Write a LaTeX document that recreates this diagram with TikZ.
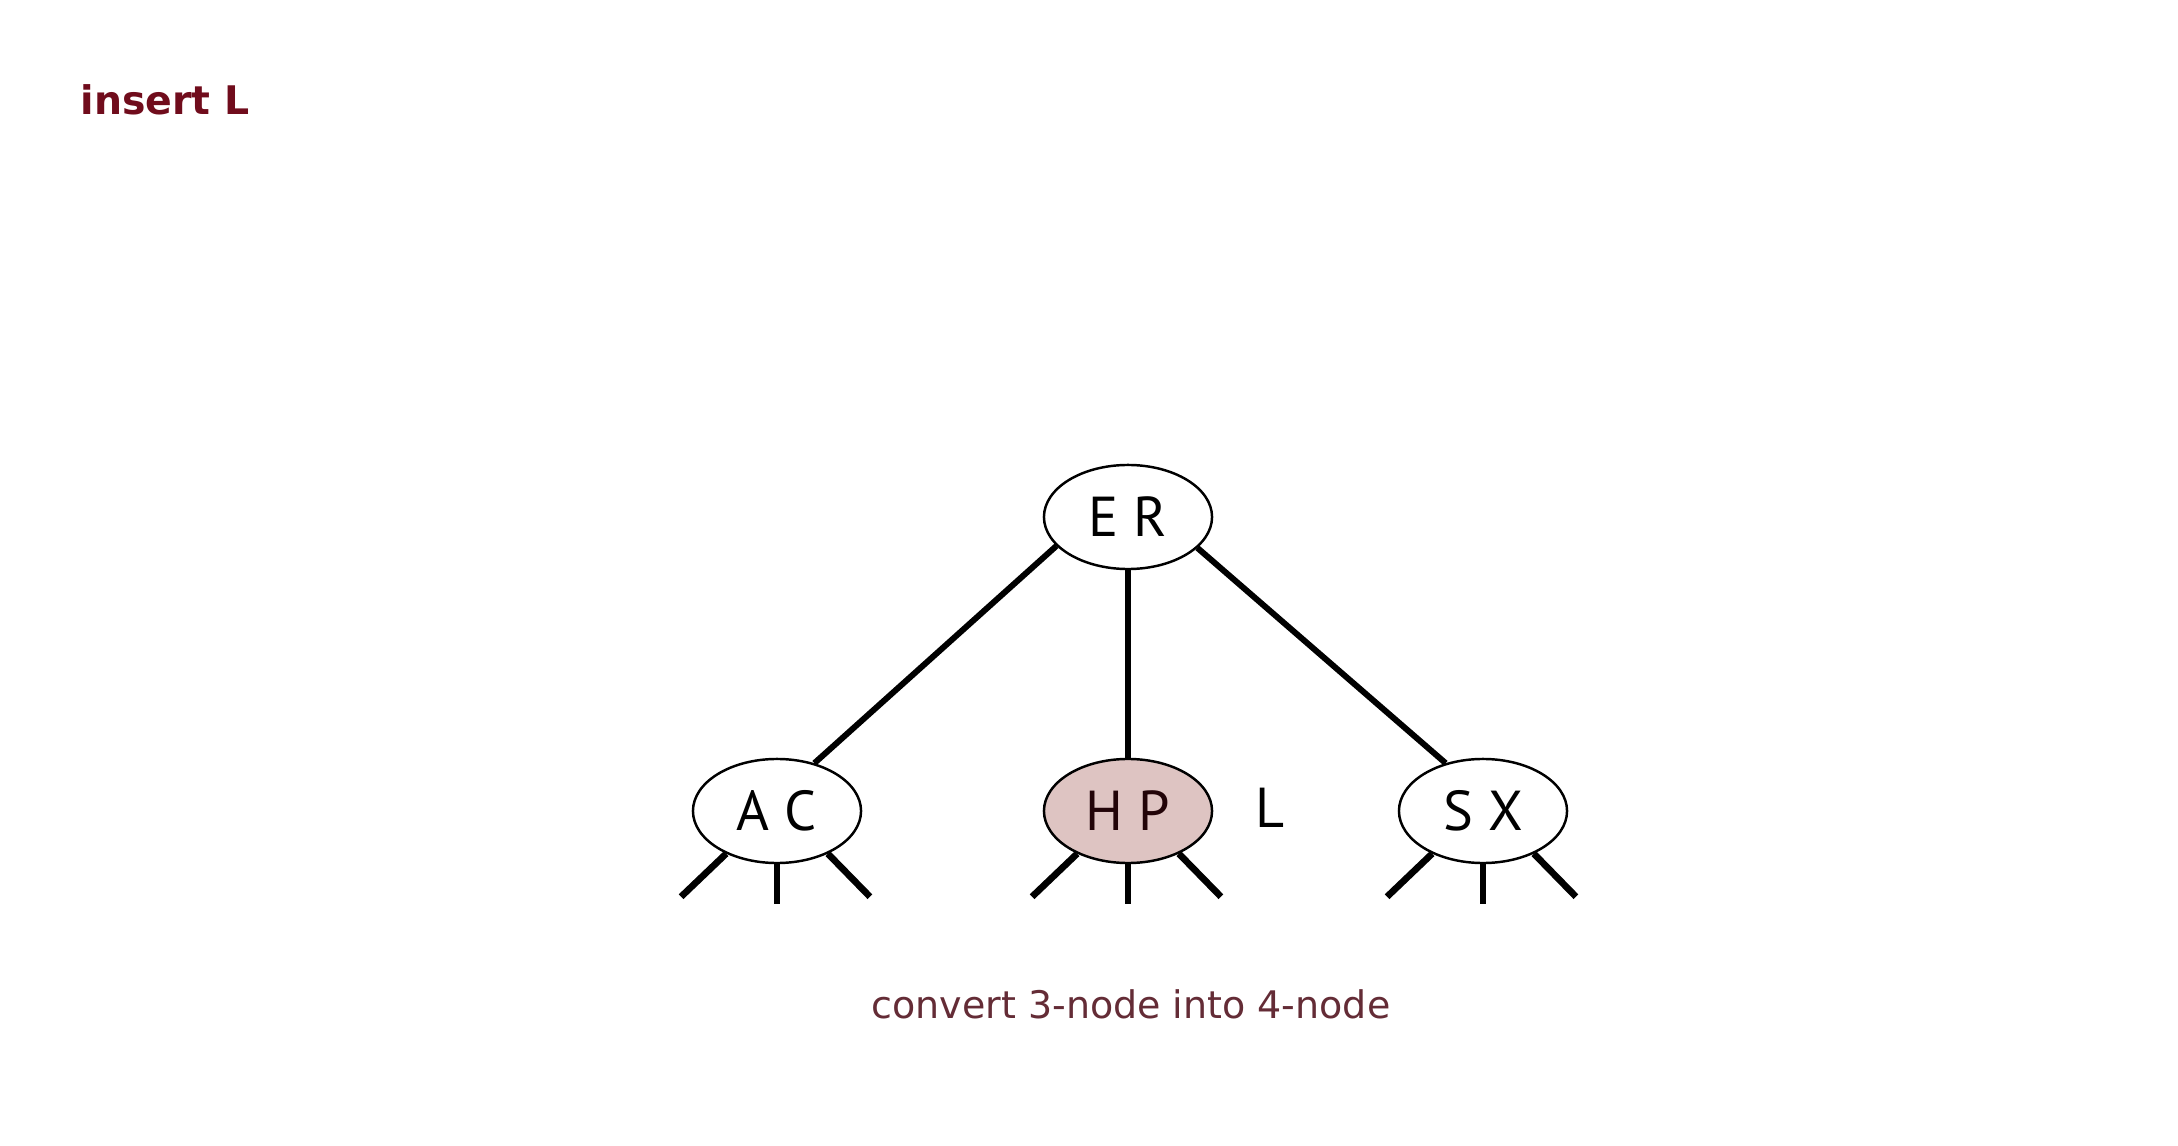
\documentclass[tikz,border=0pt]{standalone}
\usepackage{fontspec}
\setmainfont{PT Sans}
\newfontfamily\notefont{DejaVu Sans}
\usepackage{tikz}
\usetikzlibrary{positioning, shapes.geometric}

\definecolor{titlered}{RGB}{112,12,28}
\definecolor{notered}{RGB}{100,44,54}
\definecolor{hotpink}{RGB}{222,196,194}

\tikzset{
    knot/.style={draw, ellipse, line width=0.7pt, fill=white, minimum width=1.68cm, minimum height=1.04cm, inner sep=0pt, font=\fontsize{16}{19}\selectfont},
    hot/.style={knot, fill=hotpink, text=black!70!titlered},
    link/.style={line width=1.7pt},
    stub/.style={line width=1.9pt},
    note/.style={inner sep=0pt, font=\notefont}
}

\begin{document}
\begin{tikzpicture}[x=0.01cm, y=-0.01cm]
        \useasboundingbox (0,0) rectangle (2178,1146);
        \fill[white] (0,0) rectangle (2178,1146);

        % title and caption
        \node[note, anchor=base west, text=titlered, font=\notefont\fontsize{11.2}{14}\selectfont\bfseries] (title) at (80,115) {insert L};
        \node[note, anchor=base, text=notered, font=\notefont\fontsize{10.8}{13}\selectfont] (caption) at (1131,1018) {convert 3-node into 4-node};

        % the tree
        \node[knot] (ER) at (1128,517) {E R};
        \node[knot] (AC) at (777,811) {A C};
        \node[hot] (HP) at (1128,811) {H P};
        \node[knot] (SX) at (1483,811) {S X};
        \node[font=\fontsize{16}{19}\selectfont] (L) at (1270,808) {L};

        \draw[link] (ER.-158) -- (AC.52);
        \draw[link] (ER.south) -- (HP.north);
        \draw[link] (ER.-24) -- (SX.128);

        % children below the bottom nodes
        \foreach \n in {AC,HP,SX}{
            \draw[stub] (\n.-140) -- ++(-45,43);
            \draw[stub] (\n.south) -- ++(0,40);
            \draw[stub] (\n.-40) -- ++(42,43);
        }
    \end{tikzpicture}
\end{document}
